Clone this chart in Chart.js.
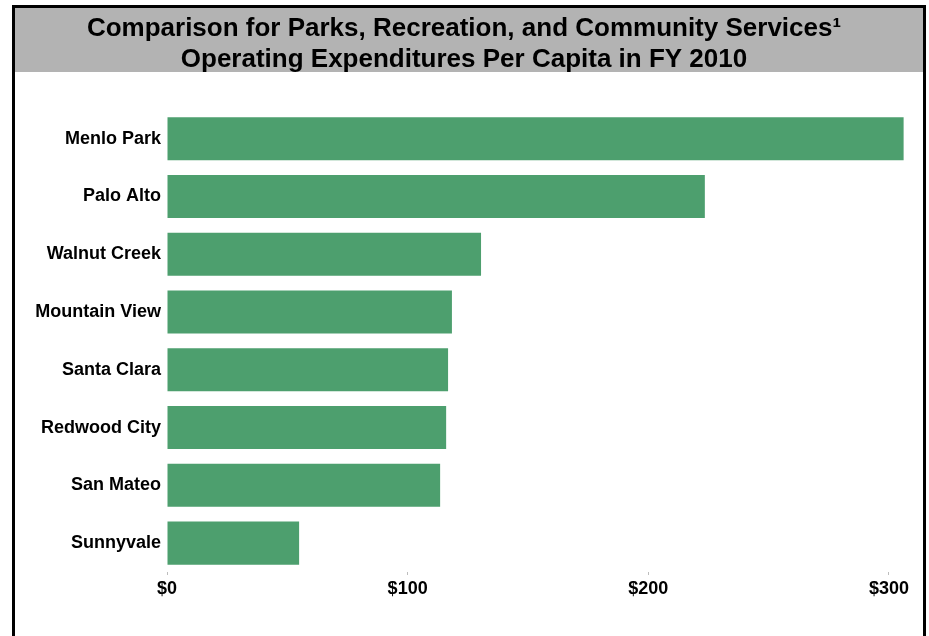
<!DOCTYPE html>
<html>
<head>
<meta charset="utf-8">
<script src="https://cdn.jsdelivr.net/npm/chart.js@4/dist/chart.umd.min.js"></script>
<style>
  html, body { margin: 0; padding: 0; background: #fff; overflow: hidden; }
  #frame {
    position: absolute; left: 12px; top: 5px;
    width: 908px; height: 640px;
    border: 3px solid #000;
  }
  #frame canvas { display: block; }
</style>
</head>
<body>
<div id="frame"><canvas id="chart" width="908" height="628"></canvas></div>
<script>
// FY 2010 operating expenditures per capita, in dollars
var cities = ['Menlo Park', 'Palo Alto', 'Walnut Creek', 'Mountain View',
              'Santa Clara', 'Redwood City', 'San Mateo', 'Sunnyvale'];
var perCapita = [306.1, 223.5, 130.5, 118.4, 116.8, 116.0, 113.5, 54.9];
var axisTicks = [0, 100, 200, 300];
var titleLines = ['Comparison for Parks, Recreation, and Community Services\u00b9',
                  'Operating Expenditures Per Capita in FY 2010'];

var fontFamily = '"Liberation Sans", Arial, Helvetica, sans-serif';

// grey band behind the title
var titleBand = {
  id: 'titleBand',
  beforeDraw: function(chart) {
    var ctx = chart.ctx;
    ctx.save();
    ctx.fillStyle = '#b3b3b3';
    ctx.fillRect(0, 0, chart.width, 64);
    ctx.restore();
  }
};

var ctx = document.getElementById('chart').getContext('2d');
new Chart(ctx, {
  type: 'bar',
  data: {
    labels: cities,
    datasets: [{
      data: perCapita,
      backgroundColor: '#4d9f6e',
      borderWidth: 0,
      categoryPercentage: 1,
      barPercentage: 0.745
    }]
  },
  options: {
    indexAxis: 'y',
    responsive: false,
    animation: false,
    layout: { padding: { left: 0, right: 10, top: 0, bottom: 36 } },
    plugins: {
      legend: { display: false },
      tooltip: { enabled: false },
      title: {
        display: true,
        text: titleLines,
        color: '#000',
        font: { family: fontFamily, size: 26, weight: 'bold', lineHeight: 1.19 },
        padding: { top: 5, bottom: 35 }
      }
    },
    scales: {
      x: {
        min: 0,
        max: 310,
        afterBuildTicks: function(scale) {
          scale.ticks = axisTicks.map(function(v) { return { value: v }; });
        },
        afterFit: function(scale) { scale.height = 28; },
        grid: {
          display: true,
          drawOnChartArea: false,
          drawTicks: true,
          tickLength: 3,
          color: '#bdbdbd'
        },
        border: { display: false },
        ticks: {
          color: '#000',
          padding: 3,
          font: { family: fontFamily, size: 18, weight: 'bold' },
          callback: function(v) { return '$' + v; }
        }
      },
      y: {
        afterFit: function(scale) { scale.width = 152; },
        grid: { display: false, drawTicks: false, tickLength: 0 },
        border: { display: false },
        ticks: {
          color: '#000',
          padding: 6,
          font: { family: fontFamily, size: 18, weight: 'bold' }
        }
      }
    }
  },
  plugins: [titleBand]
});
</script>
</body>
</html>
